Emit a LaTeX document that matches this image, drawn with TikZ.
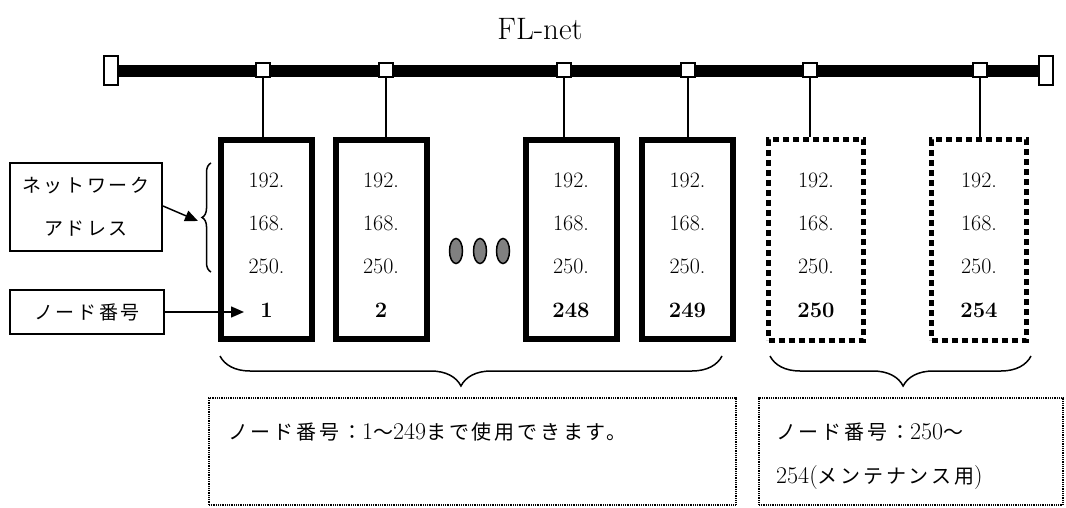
\documentclass[tikz,border=0pt]{standalone}
\usepackage{fontspec}
\newfontfamily\jp[LetterSpace=14]{Noto Sans CJK JP}
\usetikzlibrary{decorations.pathreplacing,arrows.meta}
\begin{document}
\begin{tikzpicture}[x=1pt,y=-1pt,
  endcap/.style={draw, line width=2pt, fill=white, minimum width=14pt, minimum height=29pt, inner sep=0pt},
  tap/.style={draw, line width=2pt, fill=white, minimum width=14pt, minimum height=14pt, inner sep=0pt},
  drop/.style={line width=2pt},
  solidbox/.style={draw, line width=6pt, minimum width=91pt, minimum height=199pt, inner sep=0pt},
  dotbox/.style={draw, line width=5pt, dash pattern=on 6pt off 4pt, minimum width=95pt, minimum height=200pt, inner sep=0pt},
  addr/.style={font=\fontsize{22}{24}\selectfont, inner sep=0pt},
  num/.style={font=\bfseries\fontsize{22}{24}\selectfont, inner sep=0pt},
  labelbox/.style={draw, line width=2pt, inner sep=0pt, align=center},
  jptext/.style={font=\jp\fontsize{19}{43}\selectfont},
  pointer/.style={line width=1.5pt, -{Triangle[length=13pt,width=11pt]}},
  bracestyle/.style={line width=1.5pt, decorate},
  notebox/.style={draw, line width=1.4pt, dash pattern=on 1pt off 0.8pt, inner sep=0pt},
  notetext/.style={font=\fontsize{24}{26}\selectfont, inner sep=0pt, anchor=base west}
]
\useasboundingbox (0,0) rectangle (1066,508);

% title
\node[font=\fontsize{31}{36}\selectfont, inner sep=0pt] (title) at (540,29) {FL-net};

% bus
\node[endcap] (capL) at (111,71) {};
\node[endcap] (capR) at (1046,71) {};
\draw[line width=12pt] (capL.east) -- (capR.west);

% boxes
\node[solidbox] (b1) at (266.5,239.5) {};
\node[solidbox] (b2) at (381,239.5) {};
\node[solidbox] (b3) at (571,239.5) {};
\node[solidbox] (b4) at (687.5,239.5) {};
\node[dotbox] (b5) at (816,240) {};
\node[dotbox] (b6) at (979,240) {};

% taps and drops
\foreach \i/\x in {1/263,2/386,3/564,4/688,5/810,6/980}{
  \node[tap] (t\i) at (\x,70) {};
  \draw[drop] (t\i.south) -- (t\i.south |- b\i.north);
}

% texts in boxes
\foreach \i/\n in {1/1,2/2,3/248,4/249,5/250,6/254}{
  \node[addr] (a\i) at (b\i.center |- 0,180) {192.};
  \node[addr] (c\i) at (b\i.center |- 0,223) {168.};
  \node[addr] (d\i) at (b\i.center |- 0,266) {250.};
  \node[num] (n\i) at (b\i.center |- 0,310) {\n};
}

% ellipsis dots
\foreach \x in {456,480,503}{
  \draw[line width=1.5pt, fill=black!50] (\x,251) ellipse (6.5pt and 12.5pt);
}

% left labels
\node[labelbox, jptext, minimum width=152pt, minimum height=88pt] (na) at (86,207) {ネットワーク\\アドレス};
\node[labelbox, jptext, minimum width=154pt, minimum height=44pt] (no) at (87,312) {ノード番号};

% left brace
\draw[bracestyle, decoration={brace, amplitude=9pt}] (211,272) -- (211,163);
\coordinate (natip) at (198,221);
\draw[pointer] (na.east |- 0,206) -- (natip);
\coordinate (notip) at (244,312);
\draw[pointer] (no.east) -- (notip);

% bottom braces
\draw[bracestyle, decoration={brace, amplitude=30pt, aspect=0.52}] (722,356) -- (220,356);
\draw[bracestyle, decoration={brace, amplitude=30pt, aspect=0.49}] (1031,356) -- (770,356);

% note boxes
\node[notebox, minimum width=527pt, minimum height=107pt] (nb1) at (472.5,451.5) {};
\node[notebox, minimum width=304pt, minimum height=107pt] (nb2) at (911,451.5) {};
\node[notetext] (nt1) at (228,439) {{\jp\fontsize{20}{24}\selectfont ノード番号：}1{\jp\fontsize{20}{24}\selectfont ～}249{\jp\fontsize{20}{24}\selectfont まで使用できます。}};
\node[notetext] (nt2) at (776,439) {{\jp\fontsize{20}{24}\selectfont ノード番号：}250{\jp\fontsize{20}{24}\selectfont ～}};
\node[notetext] (nt3) at (776,483) {254({\jp\fontsize{20}{24}\selectfont メンテナンス用})};
\end{tikzpicture}
\end{document}
